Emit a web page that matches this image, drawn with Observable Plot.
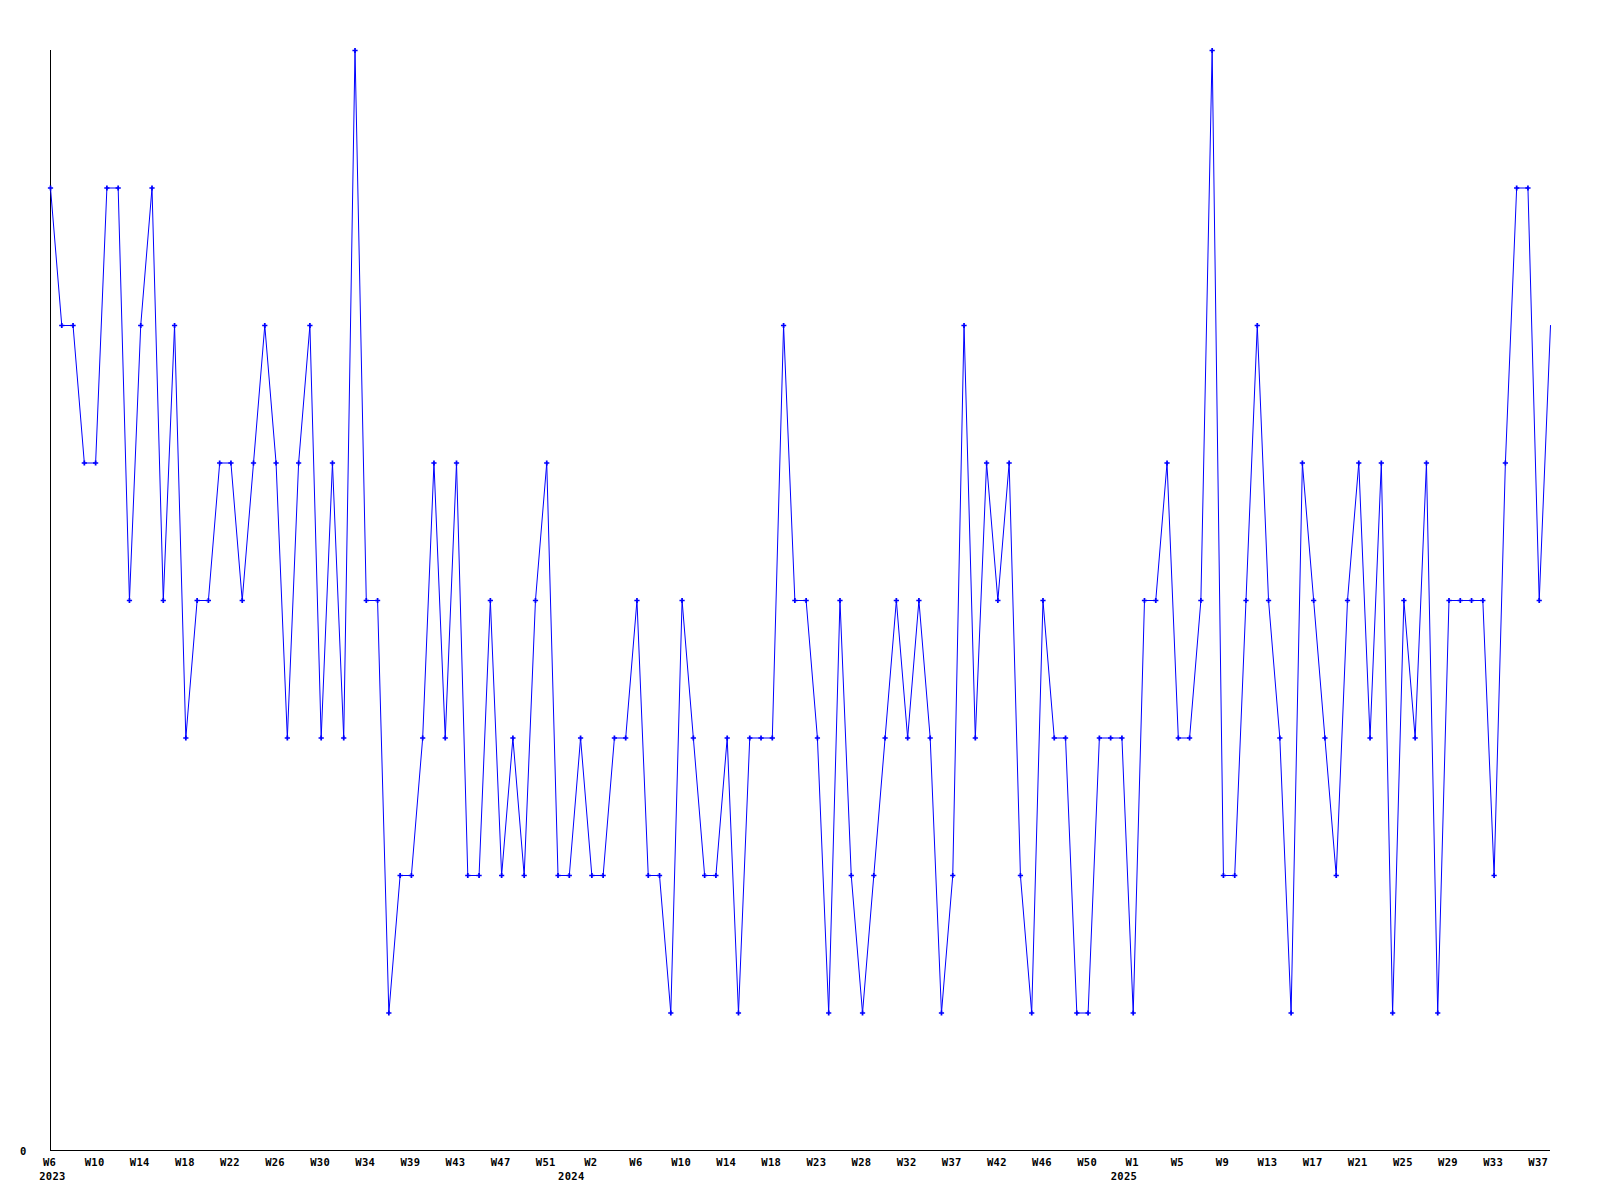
<!DOCTYPE html>
<html>
<head>
<meta charset="utf-8">
<script src="https://cdn.jsdelivr.net/npm/d3@7"></script>
<script src="https://cdn.jsdelivr.net/npm/@observablehq/plot@0.6"></script>
<style>
  html, body { margin: 0; padding: 0; background: #ffffff; }
  #chart svg { display: block; }
</style>
</head>
<body>
<div id="chart"></div>
<script>
// Week numbers present in the series, per year
const weeks2023 = [6,7,8,9,10,11,12,13,14,15,16,17,18,19,20,21,22,23,24,25,26,27,28,29,30,31,32,33,34,36,37,38,39,40,41,42,43,44,45,46,47,48,49,50,51,52];
const weeks2024 = [0,1,2,3,4,5,6,7,8,9,10,11,12,13,14,15,16,17,18,19,20,21,23,24,25,26,28,29,30,31,32,33,34,35,37,38,39,40,42,43,44,45,46,47,48,49,50,51,52];
const weeks2025 = [0,1,2,3,4,5,6,7,8,9,10,11,12,13,14,15,16,17,18,19,20,21,22,23,24,25,26,27,28,29,30,31,32,33,34,35,36,37,38];

// Weekly values (one per week above, in order)
const values = [
  7,6,6,5,5,7,7,4,6,7,
  4,6,3,4,4,5,5,4,5,6,
  5,3,5,6,3,5,3,8,4,4,
  1,2,2,3,5,3,5,2,2,4,
  2,3,2,4,5,2,2,3,2,2,
  3,3,4,2,2,1,4,3,2,2,
  3,1,3,3,3,6,4,4,3,1,
  4,2,1,2,3,4,3,4,3,1,
  2,6,3,5,4,5,2,1,4,3,
  3,1,1,3,3,3,1,4,4,5,
  3,3,4,8,2,2,4,6,4,3,
  1,5,4,3,2,4,5,3,5,1,
  4,3,5,1,4,4,4,4,2,5,
  7,7,4,6
];

const yearWeeks = [[2023, weeks2023], [2024, weeks2024], [2025, weeks2025]];
const categories = [];
for (const [year, ws] of yearWeeks) for (const w of ws) categories.push({year, week: w, key: `${year}-W${w}`});
const keys = categories.map(c => c.key);
const data = categories.map((c, i) => ({key: c.key, value: values[i]}));
const tickKeys = keys.filter((k, i) => i % 4 === 0);
const yearStarts = yearWeeks.map(([year, ws]) => ({year: String(year), key: `${year}-W${ws[0]}`}));

const chart = Plot.plot({
  width: 1600,
  height: 1200,
  marginLeft: 50,
  marginRight: 50,
  marginTop: 50,
  marginBottom: 50,
  style: {
    fontFamily: "'DejaVu Sans Mono', 'Liberation Mono', monospace",
    fontSize: "10.5px",
    fontWeight: "bold",
    letterSpacing: "0.3px",
    color: "black",
    background: "white"
  },
  x: {type: "point", domain: keys, padding: 0},
  y: {domain: [0, 8]},
  marks: [
    Plot.ruleY([0], {stroke: "black", strokeWidth: 1}),
    Plot.ruleX([keys[0]], {y1: 0, y2: 8, stroke: "black", strokeWidth: 1}),
    Plot.axisX({ticks: tickKeys, tickSize: 0, tickPadding: 8, tickFormat: k => k.split("-")[1], label: null, dx: -1}),
    Plot.axisY({ticks: [0], tickSize: 0, tickPadding: 24, label: null, dy: 1}),
    Plot.text(yearStarts, {x: "key", y: () => 0, text: "year", dy: 26, dx: 2, fill: "black"}),
    Plot.line(data, {x: "key", y: "value", stroke: "#0000ff", strokeWidth: 1}),
    Plot.dot(data.slice(0, -1), {x: "key", y: "value", symbol: "cross", r: 2.2, fill: "#0000ff", stroke: "none"})
  ]
});
document.getElementById("chart").appendChild(chart);
</script>
</body>
</html>
